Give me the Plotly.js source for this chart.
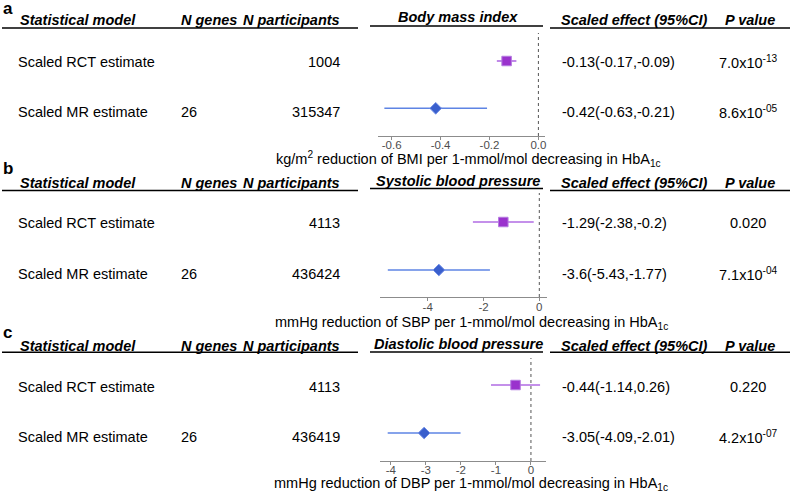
<!DOCTYPE html>
<html><head><meta charset="utf-8">
<script src="https://cdn.plot.ly/plotly-3.0.1.min.js"></script>
<style>html,body{margin:0;padding:0;background:#fff}</style>
</head><body><div id="chart" style="width:790px;height:493px"></div>
<script>
// ---------------- data ----------------
const models = ["Scaled RCT estimate", "Scaled MR estimate"];
const nGenes = ["", "26"];
const panelLetters = ["a", "b", "c"];
const outcomes = ["Body mass index", "Systolic blood pressure", "Diastolic blood pressure"];
const axisTitles = [
  "kg/m<sup>2</sup> reduction of BMI per 1-mmol/mol decreasing in HbA<sub>1c</sub>",
  "mmHg reduction of SBP per 1-mmol/mol decreasing in HbA<sub>1c</sub>",
  "mmHg reduction of DBP per 1-mmol/mol decreasing in HbA<sub>1c</sub>"
];
const headers = ["Statistical model", "N genes", "N participants", "Scaled effect (95%CI)", "P value"];

const bmiN = [1004, 315347];
const bmiEst = [-0.13, -0.42];
const bmiLo = [-0.17, -0.63];
const bmiHi = [-0.09, -0.21];
const bmiP = ["7.0x10<sup>-13</sup>", "8.6x10<sup>-05</sup>"];

const sbpN = [4113, 436424];
const sbpEst = [-1.29, -3.6];
const sbpLo = [-2.38, -5.43];
const sbpHi = [-0.2, -1.77];
const sbpP = ["0.020", "7.1x10<sup>-04</sup>"];

const dbpN = [4113, 436419];
const dbpEst = [-0.44, -3.05];
const dbpLo = [-1.14, -4.09];
const dbpHi = [0.26, -2.01];
const dbpP = ["0.220", "4.2x10<sup>-07</sup>"];

const tickVals = [[-0.6, -0.4, -0.2, 0.0], [-4, -2, 0], [-4, -3, -2, -1, 0]];
const tickText = [["-0.6", "-0.4", "-0.2", "0.0"], ["-4", "-2", "0"], ["-4", "-3", "-2", "-1", "0"]];

// ---------------- geometry (pixels) ----------------
const W = 790, H = 493;
const px = x => x / W;
const py = y => 1 - y / H;
const geo = [
  {letterY: 8, headY: 20.5, midHeadY: 16.5, lineY: 28, midLineY: 26, rowY: [62, 112],
   top: 33, bot: 136, mk: [61, 108.3], xd: [378, 545], range: [-0.656, 0.027], titleY: 158.5, titleX: 468.5, so: -5},
  {letterY: 168.5, headY: 182.7, midHeadY: 180.7, lineY: 190.5, midLineY: 188.5, rowY: [223, 273.5],
   top: 193, bot: 297, mk: [222, 270], xd: [380, 547], range: [-5.71, 0.276], titleY: 322.5, titleX: 471.5, so: -4},
  {letterY: 332, headY: 346, midHeadY: 344, lineY: 352.3, midLineY: 352, rowY: [387, 437],
   top: 358, bot: 461, mk: [385, 433], xd: [380, 546], range: [-4.31, 0.43], titleY: 484, titleX: 471, so: -5}
];

const sets = [
  {n: bmiN, est: bmiEst, lo: bmiLo, hi: bmiHi, p: bmiP},
  {n: sbpN, est: sbpEst, lo: sbpLo, hi: sbpHi, p: sbpP},
  {n: dbpN, est: dbpEst, lo: dbpLo, hi: dbpHi, p: dbpP}
];

const FONT = "Liberation Sans, Arial, sans-serif";
const FS = 14.5;
const markerColors = ["#9A32CD", "#3A5FCD"];
const markerLines = ["#B57BE0", "#7390E6"];
const barColors = ["#B06BE3", "#5E84E4"];
const symbols = ["square", "diamond"];
const sizes = [9.5, 9];

const traces = [];
const annotations = [];
const shapes = [];
const layout = {
  width: W, height: H,
  margin: {l: 0, r: 0, t: 0, b: 0},
  paper_bgcolor: "#fff", plot_bgcolor: "#fff",
  showlegend: false,
  font: {family: FONT, size: FS, color: "#000"}
};

function txt(x, y, text, opts) {
  annotations.push(Object.assign({
    xref: "paper", yref: "paper", x: px(x), y: py(y), text: text, showarrow: false,
    xanchor: "left", yanchor: "middle", borderpad: 0, font: {family: FONT, size: FS, color: "#000"}
  }, opts || {}));
}
function hline(x0, x1, y) {
  shapes.push({type: "line", xref: "paper", yref: "paper", x0: px(x0), x1: px(x1), y0: py(y), y1: py(y),
    line: {color: "#000", width: 1.5}});
}
const headFont = {family: FONT, size: FS, color: "#000", weight: "bold", style: "italic"};

sets.forEach((s, i) => {
  const g = geo[i];
  const k = i === 0 ? "" : String(i + 1);
  const xa = "x" + k, ya = "y" + k;
  const u = g.mk[1] - g.mk[0];
  const yr = [1 - (g.bot - g.mk[1]) / u, 2 + (g.mk[0] - g.top) / u];
  layout["xaxis" + k] = {
    domain: [px(g.xd[0]), px(g.xd[1])], range: g.range, anchor: ya,
    showline: true, linecolor: "#8c8c8c", linewidth: 1,
    ticks: "outside", ticklen: 3, tickcolor: "#8c8c8c", tickwidth: 1,
    ticklabelstandoff: g.so,
    tickmode: "array", tickvals: tickVals[i], ticktext: tickText[i],
    tickfont: {family: FONT, size: 11.5, color: "#4d4d4d"},
    showgrid: false, zeroline: false, fixedrange: true
  };
  layout["yaxis" + k] = {
    domain: [py(g.bot), py(g.top)], range: yr, anchor: xa,
    visible: false, fixedrange: true
  };
  shapes.push({type: "line", xref: xa, yref: "paper", x0: 0, x1: 0, y0: py(g.bot), y1: py(g.top),
    line: {color: "#555", width: 1, dash: "3px,3px"}});
  for (let r = 0; r < 2; r++) {
    traces.push({
      type: "scatter", mode: "markers", xaxis: xa, yaxis: ya,
      x: [s.est[r]], y: [2 - r],
      error_x: {type: "data", symmetric: false,
        array: [s.hi[r] - s.est[r]], arrayminus: [s.est[r] - s.lo[r]],
        color: barColors[r], thickness: 1.6, width: 0},
      marker: {symbol: symbols[r], size: sizes[r], color: markerColors[r],
        line: {color: markerLines[r], width: 1}},
      hoverinfo: "x"
    });
  }
  txt(2, g.letterY, panelLetters[i], {font: {family: FONT, size: 17, color: "#000", weight: "bold"}});
  txt(19, g.headY, headers[0], {font: headFont});
  txt(180, g.headY, headers[1], {font: headFont});
  txt(341, g.headY, headers[2], {font: headFont, xanchor: "right"});
  txt(458, g.midHeadY, outcomes[i], {font: headFont, xanchor: "center"});
  txt(634.5, g.headY, headers[3], {font: headFont, xanchor: "center"});
  txt(750, g.headY, headers[4], {font: headFont, xanchor: "center"});
  hline(2, 358, g.lineY);
  hline(370, 543, g.midLineY);
  hline(550, 790, g.lineY);
  for (let r = 0; r < 2; r++) {
    const y = g.rowY[r];
    txt(17, y, models[r]);
    if (nGenes[r]) txt(180, y, nGenes[r]);
    txt(341, y, String(s.n[r]), {xanchor: "right"});
    txt(561, y, s.est[r] + "(" + s.lo[r] + "," + s.hi[r] + ")");
    txt(748, y, s.p[r], {xanchor: "center"});
  }
  txt(g.titleX, g.titleY, axisTitles[i], {xanchor: "center"});
});

layout.annotations = annotations;
layout.shapes = shapes;
Plotly.newPlot("chart", traces, layout, {displayModeBar: false});
</script>
</body></html>
